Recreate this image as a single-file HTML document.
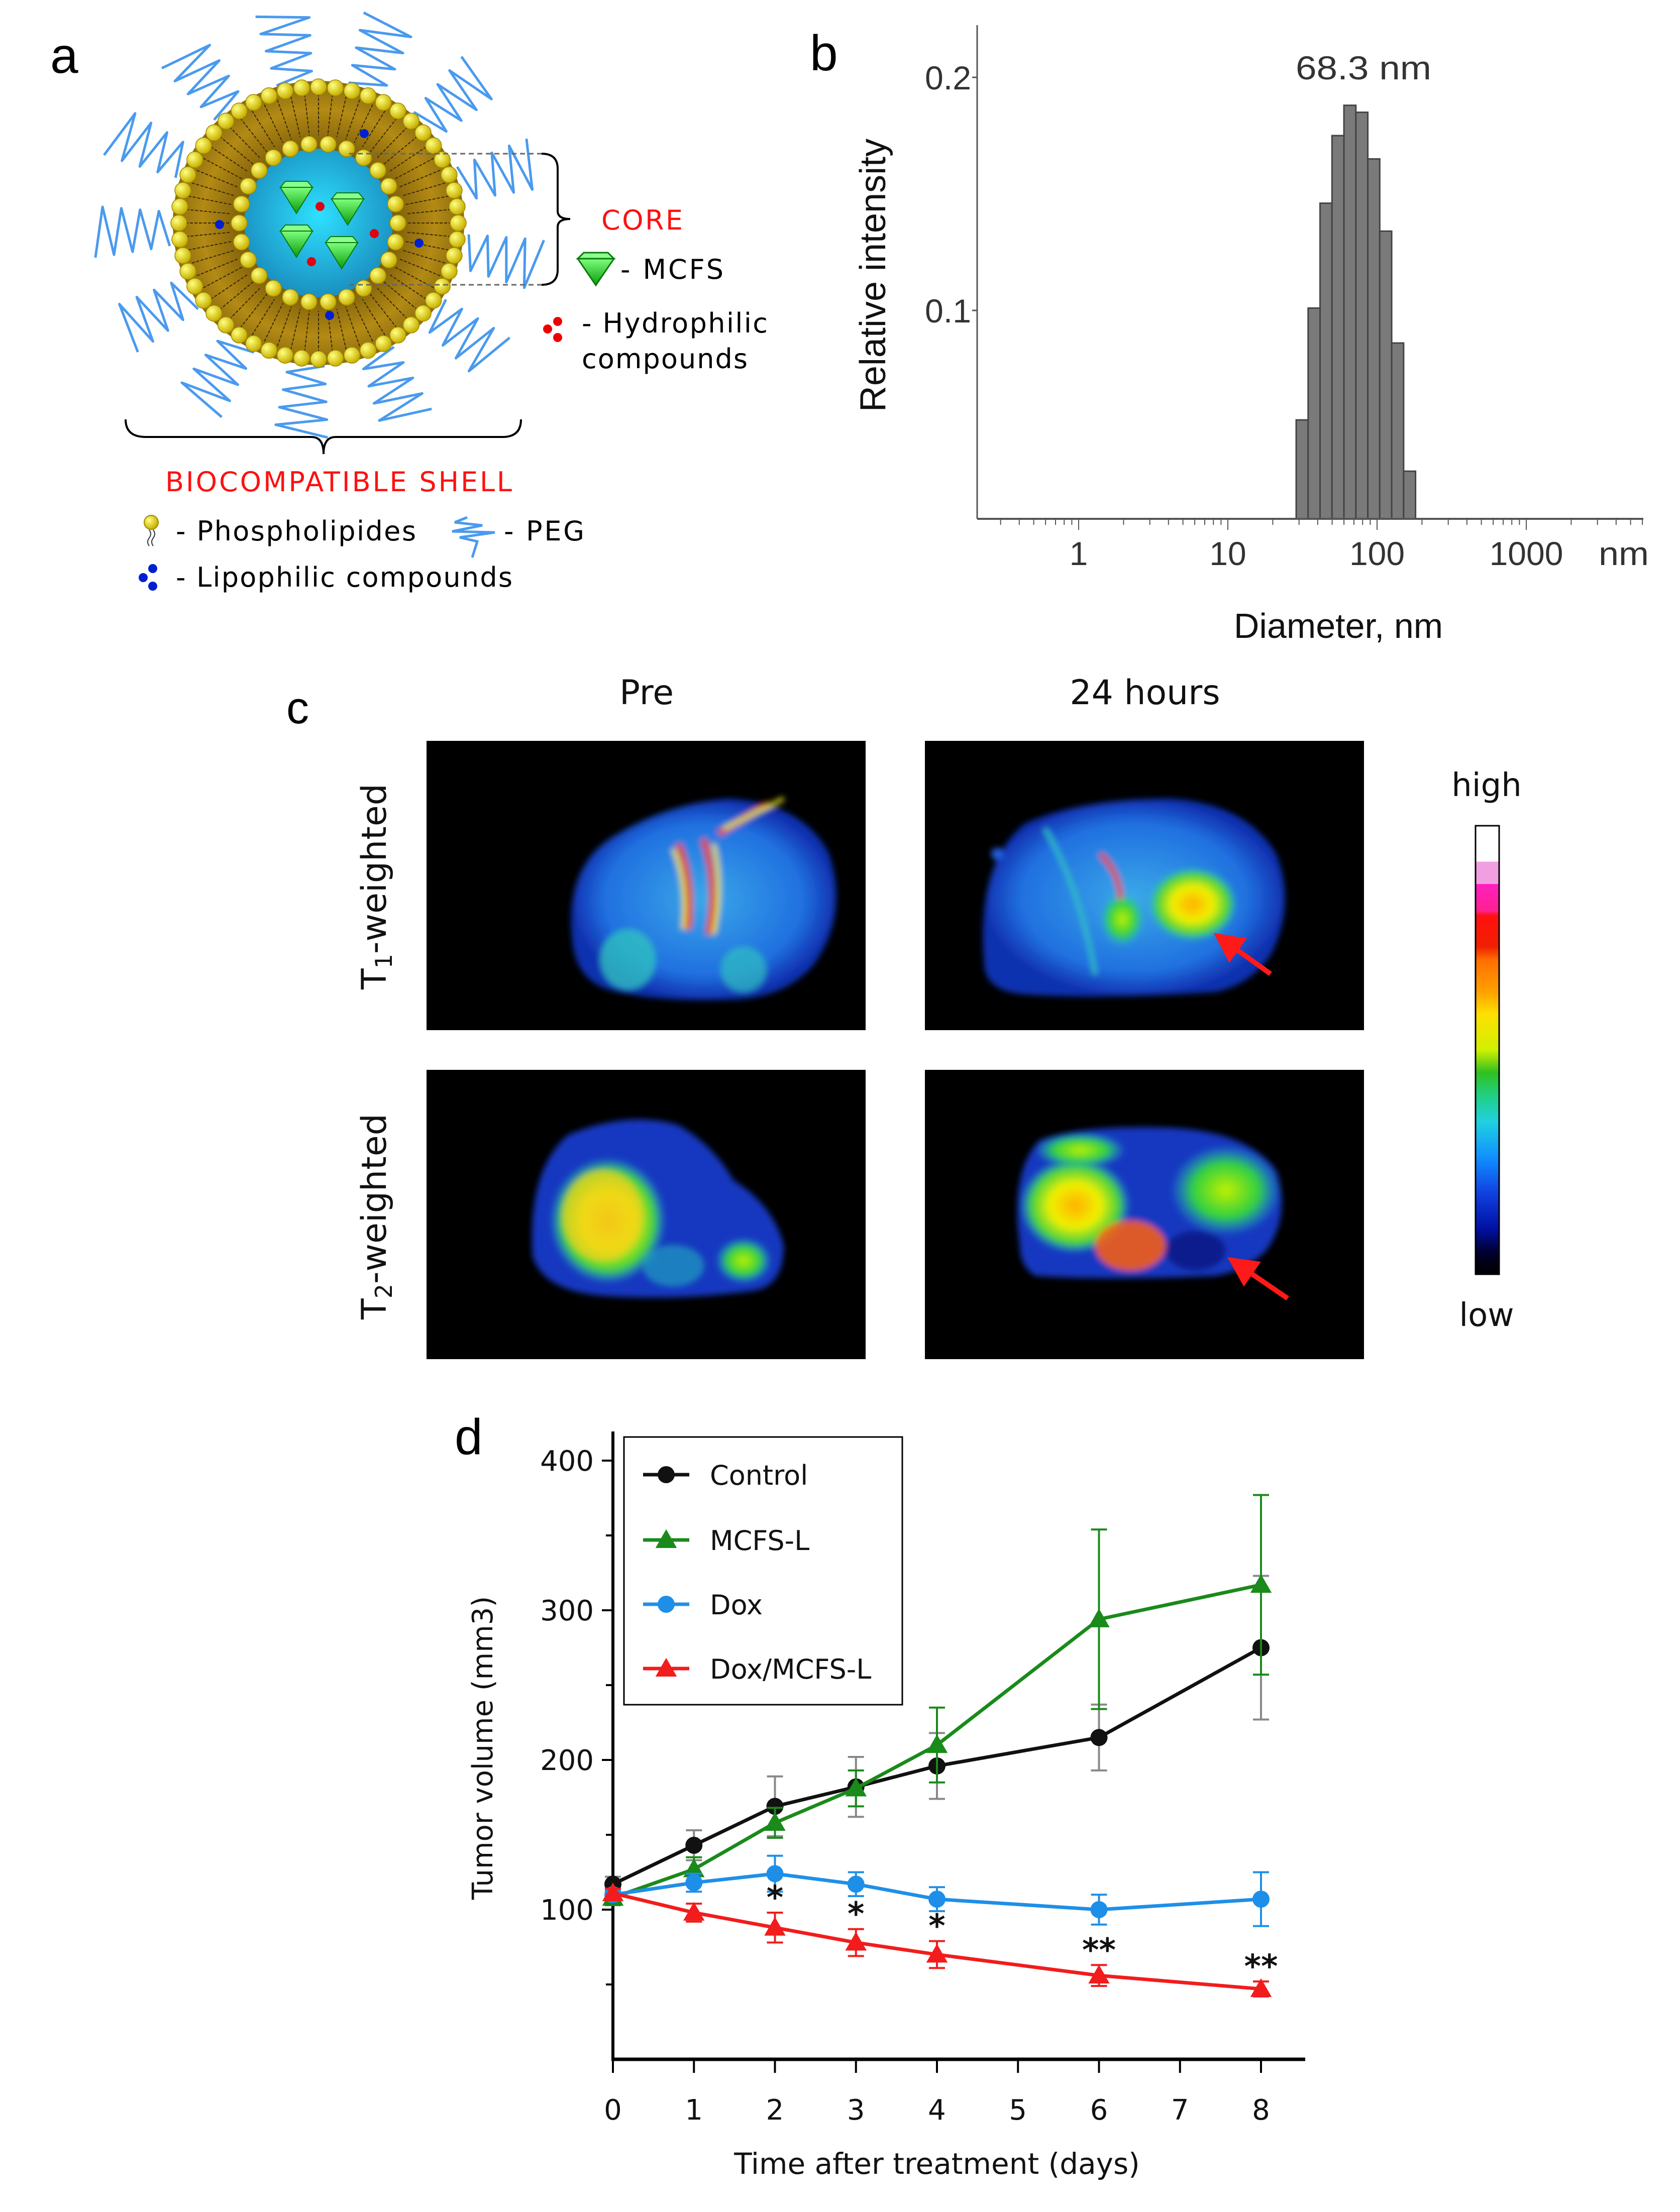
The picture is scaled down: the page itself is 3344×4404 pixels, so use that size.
<!DOCTYPE html>
<html><head><meta charset="utf-8">
<style>
html,body{margin:0;padding:0;background:#fff;}
svg{display:block;}
</style></head>
<body>
<svg id="fig" xmlns="http://www.w3.org/2000/svg" width="3344" height="4404" viewBox="0 0 3344 4404">
<defs>
  <radialGradient id="shellG" cx="50%" cy="50%" r="50%">
    <stop offset="0.5" stop-color="#7a5a0a"/><stop offset="0.8" stop-color="#b38a14"/><stop offset="1" stop-color="#8a6a10"/>
  </radialGradient>
  <radialGradient id="coreG" cx="50%" cy="45%" r="55%">
    <stop offset="0" stop-color="#2ee0ff"/><stop offset="1" stop-color="#1a8fc0"/>
  </radialGradient>
  <radialGradient id="beadG" cx="35%" cy="35%" r="65%">
    <stop offset="0" stop-color="#ffff80"/><stop offset="1" stop-color="#c8b000"/>
  </radialGradient>
  <linearGradient id="diaG" x1="0" y1="0" x2="0" y2="1">
    <stop offset="0" stop-color="#7dff7d"/><stop offset="1" stop-color="#0a9a0a"/>
  </linearGradient>
  <linearGradient id="cbar" x1="0" y1="0" x2="0" y2="1">
    <stop offset="0" stop-color="#ffffff"/><stop offset="0.08" stop-color="#ffffff"/>
    <stop offset="0.08" stop-color="#f0a0e0"/><stop offset="0.13" stop-color="#f0a0e0"/>
    <stop offset="0.13" stop-color="#ff20c0"/><stop offset="0.19" stop-color="#ff2090"/>
    <stop offset="0.2" stop-color="#ff1010"/><stop offset="0.27" stop-color="#f02000"/>
    <stop offset="0.3" stop-color="#ff7000"/><stop offset="0.37" stop-color="#ffa000"/>
    <stop offset="0.42" stop-color="#ffe000"/><stop offset="0.5" stop-color="#d0f000"/>
    <stop offset="0.55" stop-color="#30c020"/><stop offset="0.6" stop-color="#20d080"/>
    <stop offset="0.66" stop-color="#20d0e0"/><stop offset="0.74" stop-color="#1090ff"/>
    <stop offset="0.82" stop-color="#1040e0"/><stop offset="0.9" stop-color="#0010a0"/>
    <stop offset="0.95" stop-color="#000030"/><stop offset="1" stop-color="#000000"/>
  </linearGradient>
  <filter id="blur1"><feGaussianBlur stdDeviation="14"/></filter>
  <filter id="blur2"><feGaussianBlur stdDeviation="6"/></filter>
  <radialGradient id="hotY" cx="50%" cy="50%" r="50%">
    <stop offset="0" stop-color="#ffb000"/><stop offset="0.45" stop-color="#f0f000"/><stop offset="0.8" stop-color="#40d040"/><stop offset="1" stop-color="#20c0e0" stop-opacity="0"/>
  </radialGradient>
  <radialGradient id="hotG" cx="50%" cy="50%" r="50%">
    <stop offset="0" stop-color="#c0f000"/><stop offset="0.6" stop-color="#30d040"/><stop offset="1" stop-color="#20c0e0" stop-opacity="0"/>
  </radialGradient>
  <radialGradient id="tissue" cx="50%" cy="50%" r="50%">
    <stop offset="0" stop-color="#3aa8e8"/><stop offset="0.75" stop-color="#2070e0"/><stop offset="1" stop-color="#1030b0"/>
  </radialGradient>
  <marker id="arrowHead" markerWidth="6" markerHeight="6" refX="3" refY="3" orient="auto">
    <path d="M0,0 L6,3 L0,6 Z" fill="#ff1a1a"/>
  </marker>
</defs>

<!-- ================= PANEL A ================= -->
<g id="panelA">
  <text x="100" y="145" font-family="Liberation Sans, sans-serif" font-size="100" fill="#000">a</text>
  <g id="pegLayer"></g>
  <g id="sphere">
    <ellipse cx="634" cy="444" rx="290" ry="283" fill="url(#shellG)"/>
    <g id="tails"></g>
    <g id="outerBeads"></g>
    <circle cx="634" cy="444" r="148" fill="url(#coreG)"/>
    <g id="innerBeads"></g>
    <g id="cargo"></g>
  </g>
  <path d="M695 306 H1078 M695 567 H1078" stroke="#666" stroke-width="3" stroke-dasharray="10,7" fill="none"/>
  <path d="M1078 306 Q1110 306 1110 336 V420 Q1110 436 1135 436 Q1110 436 1110 452 V537 Q1110 567 1078 567" stroke="#000" stroke-width="4" fill="none"/>
  <text x="1197" y="457" font-family="DejaVu Sans, sans-serif" font-size="54" fill="#ff1010" textLength="162">CORE</text>
  <polygon points="1150,515 1222,515 1186,568" fill="url(#diaG)" stroke="#0a7a0a" stroke-width="3"/>
  <polygon points="1150,515 1162,503 1210,503 1222,515" fill="#8aff8a" stroke="#0a7a0a" stroke-width="3"/>
  <text x="1235" y="555" font-family="DejaVu Sans, sans-serif" font-size="54" fill="#000" textLength="205">- MCFS</text>
  <circle cx="1090" cy="655" r="9" fill="#e00"/><circle cx="1110" cy="640" r="9" fill="#e00"/><circle cx="1110" cy="672" r="9" fill="#e00"/>
  <text x="1158" y="662" font-family="DejaVu Sans, sans-serif" font-size="54" fill="#000" textLength="370">- Hydrophilic</text>
  <text x="1158" y="733" font-family="DejaVu Sans, sans-serif" font-size="54" fill="#000" textLength="330">compounds</text>
  <path d="M250 835 Q250 870 290 870 H620 Q644 870 644 904 Q644 870 668 870 H1000 Q1037 870 1037 835" stroke="#000" stroke-width="4" fill="none"/>
  <text x="674" y="978" text-anchor="middle" font-family="DejaVu Sans, sans-serif" font-size="54" fill="#ff1010" textLength="690">BIOCOMPATIBLE SHELL</text>
  <circle cx="301" cy="1040" r="14" fill="url(#beadG)" stroke="#9a8a00" stroke-width="2"/>
  <path d="M297 1055 q6 8 0 16 q-6 8 0 16 M305 1055 q6 8 0 16 q-6 8 0 16" stroke="#333" stroke-width="2" fill="none"/>
  <text x="350" y="1076" font-family="DejaVu Sans, sans-serif" font-size="54" fill="#000" textLength="478">- Phospholipides</text>
  <path d="M930 1030 L905 1040 L960 1046 L900 1058 L985 1060 L915 1070 L950 1078 L940 1110" stroke="#4a9aee" stroke-width="5" fill="none"/>
  <text x="1003" y="1076" font-family="DejaVu Sans, sans-serif" font-size="54" fill="#000" textLength="160">- PEG</text>
  <circle cx="285" cy="1150" r="9" fill="#0020d0"/><circle cx="304" cy="1132" r="9" fill="#0020d0"/><circle cx="304" cy="1167" r="9" fill="#0020d0"/>
  <text x="350" y="1168" font-family="DejaVu Sans, sans-serif" font-size="54" fill="#000" textLength="670">- Lipophilic compounds</text>
</g>

<!-- ================= PANEL B ================= -->
<g id="panelB">
  <text x="1612" y="140" font-family="Liberation Sans, sans-serif" font-size="100" fill="#000">b</text>
  <g id="bBars"></g>
  <g id="bAxes"></g>
  <text x="2714" y="158" text-anchor="middle" font-family="Liberation Sans, sans-serif" font-size="66" fill="#333" textLength="270" lengthAdjust="spacingAndGlyphs">68.3 nm</text>
  <text transform="translate(1762,548) rotate(-90)" text-anchor="middle" font-family="Liberation Sans, sans-serif" font-size="72" fill="#111">Relative intensity</text>
  <text x="2664" y="1270" text-anchor="middle" font-family="Liberation Sans, sans-serif" font-size="70" fill="#111">Diameter, nm</text>
  <text x="3232" y="1125" text-anchor="middle" font-family="Liberation Sans, sans-serif" font-size="66" fill="#333" textLength="100" lengthAdjust="spacingAndGlyphs">nm</text>
</g>

<!-- ================= PANEL C ================= -->
<g id="panelC">
  <text x="570" y="1440" font-family="Liberation Sans, sans-serif" font-size="90" fill="#000">c</text>
  <text x="1287" y="1402" text-anchor="middle" font-family="DejaVu Sans, sans-serif" font-size="68" fill="#111">Pre</text>
  <text x="2279" y="1402" text-anchor="middle" font-family="DejaVu Sans, sans-serif" font-size="68" fill="#111">24 hours</text>
  <text transform="translate(768,1765) rotate(-90)" text-anchor="middle" font-family="DejaVu Sans, sans-serif" font-size="68" fill="#111">T<tspan font-size="46" dy="12">1</tspan><tspan dy="-12">-weighted</tspan></text>
  <text transform="translate(768,2422) rotate(-90)" text-anchor="middle" font-family="DejaVu Sans, sans-serif" font-size="68" fill="#111">T<tspan font-size="46" dy="12">2</tspan><tspan dy="-12">-weighted</tspan></text>

  <g>
    <rect x="849" y="1475" width="874" height="576" fill="#000"/>
    <g filter="url(#blur2)">
      <path d="M1140 1880 Q1120 1720 1230 1660 Q1330 1600 1450 1590 Q1600 1600 1650 1700 Q1690 1820 1620 1920 Q1560 1990 1450 1990 Q1320 1995 1230 1975 Q1150 1960 1140 1880 Z" fill="url(#tissue)"/>
      <ellipse cx="1250" cy="1910" rx="55" ry="60" fill="#30c0c0" opacity="0.8"/>
      <ellipse cx="1480" cy="1930" rx="45" ry="45" fill="#30c0c0" opacity="0.7"/>
      <path d="M1350 1680 Q1380 1750 1370 1850 M1400 1670 Q1430 1760 1410 1860 M1430 1660 L1530 1600" stroke="#e04010" stroke-width="12" fill="none"/>
      <path d="M1340 1690 Q1370 1760 1360 1850 M1420 1680 Q1440 1760 1420 1860 M1440 1650 L1560 1590" stroke="#e0e020" stroke-width="8" fill="none"/>
    </g>
  </g>
  <g>
    <rect x="1841" y="1475" width="874" height="576" fill="#000"/>
    <g filter="url(#blur2)">
      <path d="M1960 1930 Q1940 1720 2040 1640 Q2150 1590 2330 1590 Q2480 1600 2540 1700 Q2580 1800 2530 1900 Q2490 1960 2420 1975 Q2200 1990 2040 1980 Q1970 1975 1960 1930 Z" fill="url(#tissue)"/>
      <ellipse cx="2374" cy="1800" rx="90" ry="75" fill="url(#hotY)"/>
      <ellipse cx="2234" cy="1830" rx="45" ry="55" fill="url(#hotG)"/>
      <path d="M2190 1700 Q2230 1740 2230 1790" stroke="#e04010" stroke-width="10" fill="none"/>
      <path d="M2080 1650 Q2150 1770 2180 1940" stroke="#30c0c0" stroke-width="8" fill="none"/>
      <circle cx="1985" cy="1700" r="12" fill="#2060e0"/>
    </g>
    <line x1="2529" y1="1939" x2="2440" y2="1875" stroke="#ff1a1a" stroke-width="10" marker-end="url(#arrowHead)"/>
  </g>
  <g>
    <rect x="849" y="2130" width="874" height="576" fill="#000"/>
    <g filter="url(#blur2)">
      <path d="M1060 2500 Q1050 2330 1130 2260 Q1250 2210 1350 2240 Q1420 2280 1460 2350 Q1540 2400 1560 2480 Q1560 2560 1500 2570 Q1350 2590 1200 2580 Q1080 2570 1060 2500 Z" fill="#1838c0"/>
      <ellipse cx="1210" cy="2430" rx="115" ry="125" fill="url(#hotY)"/>
      <ellipse cx="1200" cy="2420" rx="80" ry="90" fill="#f0d020" opacity="0.7"/>
      <ellipse cx="1480" cy="2510" rx="55" ry="45" fill="url(#hotG)"/>
      <ellipse cx="1340" cy="2520" rx="60" ry="40" fill="#20b0c0" opacity="0.6"/>
    </g>
  </g>
  <g>
    <rect x="1841" y="2130" width="874" height="576" fill="#000"/>
    <g filter="url(#blur2)">
      <path d="M2030 2480 Q2010 2330 2070 2270 Q2150 2240 2320 2245 Q2480 2250 2540 2330 Q2570 2420 2520 2490 Q2480 2530 2420 2540 Q2200 2550 2060 2540 Q2030 2520 2030 2480 Z" fill="#1838c0"/>
      <ellipse cx="2140" cy="2400" rx="110" ry="95" fill="url(#hotY)"/>
      <ellipse cx="2440" cy="2370" rx="110" ry="90" fill="url(#hotG)"/>
      <ellipse cx="2250" cy="2480" rx="70" ry="50" fill="#ff6010" opacity="0.85"/>
      <ellipse cx="2150" cy="2290" rx="90" ry="35" fill="url(#hotG)"/>
      <ellipse cx="2380" cy="2490" rx="60" ry="40" fill="#101880" opacity="0.8"/>
    </g>
    <line x1="2563" y1="2585" x2="2468" y2="2520" stroke="#ff1a1a" stroke-width="10" marker-end="url(#arrowHead)"/>
  </g>
  <text x="2959" y="1585" text-anchor="middle" font-family="DejaVu Sans, sans-serif" font-size="64" fill="#111">high</text>
  <rect x="2937" y="1644" width="47" height="893" fill="url(#cbar)" stroke="#000" stroke-width="3"/>
  <text x="2959" y="2640" text-anchor="middle" font-family="DejaVu Sans, sans-serif" font-size="64" fill="#111">low</text>
</g>

<!-- ================= PANEL D ================= -->
<g id="panelD">
  <text x="905" y="2895" font-family="Liberation Sans, sans-serif" font-size="100" fill="#000">d</text>
  <g id="dAxes"></g>
  <g id="dSeries"></g>
  <text transform="translate(980,3480) rotate(-90)" text-anchor="middle" font-family="DejaVu Sans, sans-serif" font-size="56" fill="#111">Tumor volume (mm3)</text>
  <text x="1865" y="4328" text-anchor="middle" font-family="DejaVu Sans, sans-serif" font-size="58" fill="#111">Time after treatment (days)</text>
  <g id="dLegend"></g>
</g>
</svg>

<script>
// ---------- Panel b data ----------
const sizeBinStartLog = [1.458,1.538,1.618,1.698,1.778,1.858,1.938,2.018,2.098,2.178];
const sizeIntensity = [0.053,0.101,0.146,0.175,0.188,0.185,0.165,0.134,0.086,0.031];
const sizeYTicks = [0.1, 0.2];
const sizeYTickLabels = ["0.1", "0.2"];
const sizeXTicks = [1, 10, 100, 1000];
const sizeXTickLabels = ["1", "10", "100", "1000"];

// ---------- Panel d data ----------
const days = [0,1,2,3,4,6,8];
const controlMean = [117,143,169,182,196,215,275];
const controlErr  = [5,10,20,20,22,22,48];
const mcfsMean = [108,127,158,181,210,294,317];
const mcfsErr  = [5,8,10,12,25,60,60];
const doxMean = [110,118,124,117,107,100,107];
const doxErr  = [3,6,12,8,8,10,18];
const doxMcfsMean = [111,98,88,78,70,56,47];
const doxMcfsErr  = [3,6,10,9,9,7,5];
const sigLabels = ["","","*","*","*","**","**"];
const yTicksD = [100,200,300,400];
const yMinorD = [50,150,250,350];
const xTicksD = [0,1,2,3,4,5,6,7,8];
const legendNames = ["Control","MCFS-L","Dox","Dox/MCFS-L"];

const NS = "http://www.w3.org/2000/svg";
function mk(tag, attrs, parent){ const e=document.createElementNS(NS,tag); for(const k in attrs) e.setAttribute(k,attrs[k]); if(parent) parent.appendChild(e); return e; }

// ---------- Panel a decoration ----------
(function(){
  const cx=634, cy=444;
  const peg=document.getElementById('pegLayer');
  const n=13;
  for(let i=0;i<n;i++){
    const a=i/n*Math.PI*2+0.2;
    let d="";
    const r0=300, r1=450;
    for(let k=0;k<=8;k++){
      const r=r0+(r1-r0)*k/8;
      const off=(k%2?1:-1)*0.12;
      const x=cx+Math.cos(a+off)*r, y=cy+Math.sin(a+off)*r*0.95;
      d+=(k?"L":"M")+x.toFixed(1)+" "+y.toFixed(1)+" ";
    }
    const p=mk('path',{d:d,stroke:'#4a9aee','stroke-width':5,fill:'none','stroke-linejoin':'round'},peg);
    
    
  }
  const tails=document.getElementById('tails');
  for(let i=0;i<60;i++){
    const a=i/60*Math.PI*2;
    const x1=cx+Math.cos(a)*265, y1=cy+Math.sin(a)*258;
    const x2=cx+Math.cos(a)*175, y2=cy+Math.sin(a)*175;
    mk('line',{x1:x1,y1:y1,x2:x2,y2:y2,stroke:'#3a2a05','stroke-width':2,'stroke-dasharray':'6,3'},tails);
  }
  const ob=document.getElementById('outerBeads');
  for(let i=0;i<52;i++){
    const a=i/52*Math.PI*2;
    mk('circle',{cx:cx+Math.cos(a)*278,cy:cy+Math.sin(a)*271,r:16,fill:'url(#beadG)',stroke:'#a08a00','stroke-width':1.5},ob);
  }
  const ib=document.getElementById('innerBeads');
  for(let i=0;i<26;i++){
    const a=i/26*Math.PI*2;
    mk('circle',{cx:cx+Math.cos(a)*158,cy:cy+Math.sin(a)*158,r:16,fill:'url(#beadG)',stroke:'#a08a00','stroke-width':1.5},ib);
  }
  const cg=document.getElementById('cargo');
  [[590,385],[692,408],[590,472],[680,495]].forEach(p=>{
    mk('polygon',{points:`${p[0]-32},${p[1]-12} ${p[0]+32},${p[1]-12} ${p[0]},${p[1]+40}`,fill:'url(#diaG)',stroke:'#0a7a0a','stroke-width':2},cg);
    mk('polygon',{points:`${p[0]-32},${p[1]-12} ${p[0]-22},${p[1]-24} ${p[0]+22},${p[1]-24} ${p[0]+32},${p[1]-12}`,fill:'#8aff8a',stroke:'#0a7a0a','stroke-width':2},cg);
  });
  [[637,411],[745,465],[620,521]].forEach(p=>mk('circle',{cx:p[0],cy:p[1],r:9,fill:'#e00010'},cg));
  [[725,266],[437,447],[834,484],[656,628]].forEach(p=>mk('circle',{cx:p[0],cy:p[1],r:9,fill:'#0020d0'},cg));
})();

// ---------- Panel b chart ----------
(function(){
  const x0=1945, x1=3271, yBase=1033, yTop=50;
  const logX = v => 2444 + (v-1)*297;          // log10 value -> px
  const yS = v => 154 + (0.2 - v)*4640;         // intensity -> px
  const binW = 0.08;
  const bars=document.getElementById('bBars');
  sizeIntensity.forEach((v,i)=>{
    const xa=logX(sizeBinStartLog[i]), xb=logX(sizeBinStartLog[i]+binW);
    const r=mk('rect',{x:xa,y:yS(v),width:xb-xa,height:yBase-yS(v),fill:'#7a7a7a',stroke:'#444','stroke-width':3},bars);
    
    
  });
  const ax=document.getElementById('bAxes');
  mk('line',{x1:x0,y1:yTop,x2:x0,y2:yBase,stroke:'#555','stroke-width':3},ax);
  mk('line',{x1:x0,y1:yBase,x2:x1,y2:yBase,stroke:'#555','stroke-width':4},ax);
  sizeYTicks.forEach((v,i)=>{
    mk('line',{x1:x0-10,y1:yS(v),x2:x0,y2:yS(v),stroke:'#555','stroke-width':3},ax);
    const t=mk('text',{x:x0-12,y:yS(v)+24,'text-anchor':'end','font-family':'Liberation Sans, sans-serif','font-size':66,fill:'#333',textLength:92,lengthAdjust:'spacingAndGlyphs'},ax);
    t.textContent=sizeYTickLabels[i];
    
    
  });
  // minor log ticks
  for(let dec=-1; dec<=3; dec++){
    for(let m=1;m<=9;m++){
      const lv=dec+Math.log10(m)+0; // log10 of value
      const px=logX(lv);
      if(px<x0||px>x1) continue;
      mk('line',{x1:px,y1:yBase,x2:px,y2:yBase+(m===1?22:12),stroke:'#555','stroke-width':2},ax);
    }
  }
  sizeXTicks.forEach((v,i)=>{
    const t=mk('text',{x:logX(Math.log10(v)),y:1125,'text-anchor':'middle','font-family':'Liberation Sans, sans-serif','font-size':66,fill:'#333'},ax);
    t.textContent=sizeXTickLabels[i];
    
    
  });
})();

// ---------- Panel d chart ----------
(function(){
  const X0=1220, Xend=2598, Y0=4100, Ytop=2850;
  const xS = d => X0 + d*161.25;
  const yS = v => Y0 - v*2.98;
  const ax=document.getElementById('dAxes');
  mk('line',{x1:X0,y1:Ytop,x2:X0,y2:Y0+3,stroke:'#000','stroke-width':6},ax);
  mk('line',{x1:X0-3,y1:Y0,x2:Xend,y2:Y0,stroke:'#000','stroke-width':7},ax);
  yTicksD.forEach(v=>{
    mk('line',{x1:X0-22,y1:yS(v),x2:X0,y2:yS(v),stroke:'#000','stroke-width':4},ax);
    const t=mk('text',{x:X0-38,y:yS(v)+20,'text-anchor':'end','font-family':'DejaVu Sans, sans-serif','font-size':56,fill:'#111'},ax);
    t.textContent=String(v);
    
    
  });
  yMinorD.forEach(v=>mk('line',{x1:X0-14,y1:yS(v),x2:X0,y2:yS(v),stroke:'#000','stroke-width':4},ax));
  xTicksD.forEach(v=>{
    mk('line',{x1:xS(v),y1:Y0,x2:xS(v),y2:Y0+27,stroke:'#000','stroke-width':4},ax);
    const t=mk('text',{x:xS(v),y:4220,'text-anchor':'middle','font-family':'DejaVu Sans, sans-serif','font-size':56,fill:'#111'},ax);
    t.textContent=String(v);
    
    
  });

  const sg=document.getElementById('dSeries');
  const series=[
    {name:'control',mean:controlMean,err:controlErr,color:'#111111',errColor:'#888888',marker:'circle'},
    {name:'mcfs-l',mean:mcfsMean,err:mcfsErr,color:'#1a8a1a',errColor:'#1a8a1a',marker:'tri'},
    {name:'dox',mean:doxMean,err:doxErr,color:'#1e8fe8',errColor:'#1e8fe8',marker:'circle'},
    {name:'dox-mcfs-l',mean:doxMcfsMean,err:doxMcfsErr,color:'#f21c1c',errColor:'#f21c1c',marker:'tri'}
  ];
  function marker(g,type,x,y,color,size){
    if(type==='circle') return mk('circle',{cx:x,cy:y,r:size,fill:color},g);
    const s=size*1.25;
    return mk('polygon',{points:`${x},${y-s} ${x+s},${y+s*0.75} ${x-s},${y+s*0.75}`,fill:color},g);
  }
  series.forEach(s=>{
    const g=mk('g',{},sg);
    
    
    days.forEach((d,i)=>{
      const x=xS(d), yh=yS(s.mean[i]+s.err[i]), yl=yS(s.mean[i]-s.err[i]);
      const eb=mk('path',{d:`M${x} ${yh} V${yl} M${x-16} ${yh} H${x+16} M${x-16} ${yl} H${x+16}`,stroke:s.errColor,'stroke-width':4,fill:'none'},g);
      
      
    });
    const pts=days.map((d,i)=>xS(d)+','+yS(s.mean[i])).join(' ');
    const line=mk('polyline',{points:pts,stroke:s.color,'stroke-width':7,fill:'none','stroke-linejoin':'round'},g);
    
    
    days.forEach((d,i)=>{
      const m=marker(g,s.marker,xS(d),yS(s.mean[i]),s.color,17);
      
      
    });
  });
  days.forEach((d,i)=>{
    if(!sigLabels[i]) return;
    const t=mk('text',{x:xS(d),y:yS(doxMcfsMean[i]+doxMcfsErr[i])-8,'text-anchor':'middle','font-family':'DejaVu Sans, sans-serif','font-weight':'bold','font-size':64,fill:'#111'},sg);
    t.textContent=sigLabels[i];
    
    
  });

  const lg=document.getElementById('dLegend');
  mk('rect',{x:1242,y:2861,width:554,height:533,fill:'#fff',stroke:'#000','stroke-width':3},lg);
  const lys=[2936,3066,3194,3322];
  legendNames.forEach((nm,i)=>{
    const s=series[i];
    const g=mk('g',{},lg);
    
    
    mk('line',{x1:1280,y1:lys[i],x2:1372,y2:lys[i],stroke:s.color,'stroke-width':7},g);
    marker(g,s.marker,1326,lys[i],s.color,17);
    const t=mk('text',{x:1413,y:lys[i]+20,'font-family':'DejaVu Sans, sans-serif','font-size':54,fill:'#111'},g);
    t.textContent=nm;
  });
})();
</script>
</body></html>
